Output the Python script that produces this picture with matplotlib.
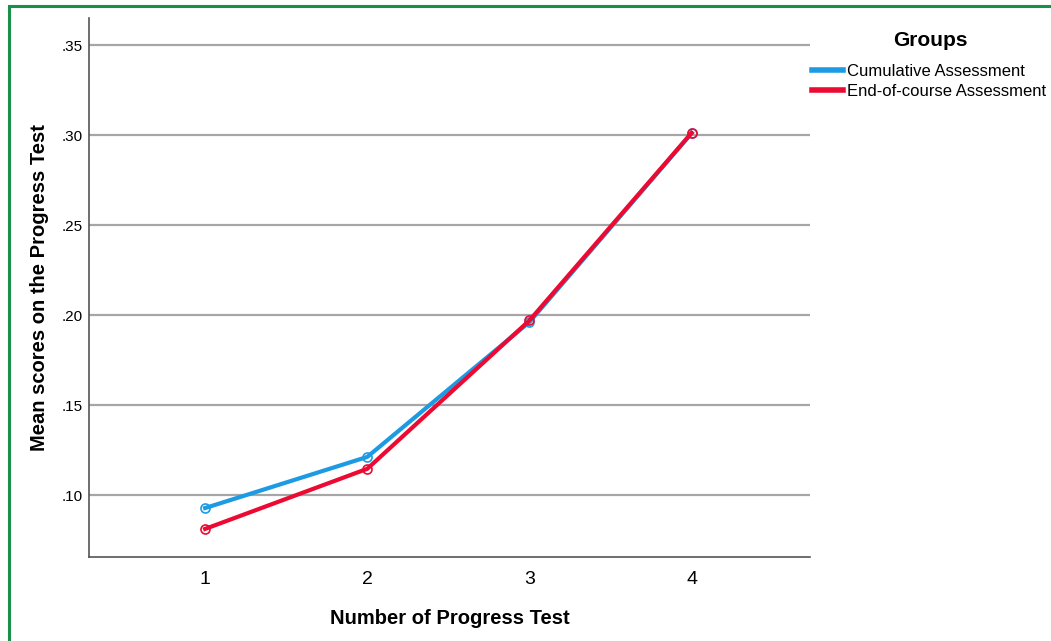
import matplotlib.pyplot as plt
from matplotlib.patches import Rectangle

tests = [1, 2, 3, 4]
cumulative = [0.0928, 0.1212, 0.1961, 0.3010]
end_of_course = [0.0812, 0.1146, 0.1970, 0.3012]
y_ticks = [0.10, 0.15, 0.20, 0.25, 0.30, 0.35]
y_tick_labels = ['.10', '.15', '.20', '.25', '.30', '.35']

plt.rcParams['font.family'] = ['Liberation Sans', 'DejaVu Sans']

fig = plt.figure(figsize=(10.51, 6.41), dpi=100)
ax = fig.add_axes([89 / 1051, 84 / 641, 721 / 1051, 539 / 641])

# green frame round the figure
fig.patches.append(Rectangle((9 / 1051, -0.05), 1.1, 1 - 6 / 641 + 0.05, transform=fig.transFigure,
                             fill=False, edgecolor='#1a8f4a', linewidth=2.2))

for yt in y_ticks:
    ax.axhline(yt, color='#a6a6a6', linewidth=1.6, zorder=1)

ax.plot(tests, cumulative, color='#1c9be3', linewidth=3, marker='o', markersize=6.5,
        markerfacecolor='none', markeredgewidth=1.2, label='Cumulative Assessment', zorder=3)
ax.plot(tests, end_of_course, color='#ec0a32', linewidth=3, marker='o', markersize=6.5,
        markerfacecolor='none', markeredgewidth=1.2, label='End-of-course Assessment', zorder=4)

ax.set_xlim(0.284, 4.73)
ax.set_ylim(0.0656, 0.365)
ax.set_xticks(tests)
ax.set_xticklabels([str(t) for t in tests], fontsize=14)
ax.set_yticks(y_ticks)
ax.set_yticklabels(y_tick_labels, fontsize=11)
ax.tick_params(axis='y', length=0, pad=4.5)
ax.tick_params(axis='x', length=0, pad=10)

for side in ['top', 'right']:
    ax.spines[side].set_visible(False)
for side in ['left', 'bottom']:
    ax.spines[side].set_color('#555555')
    ax.spines[side].set_linewidth(1.2)

ax.set_xlabel('Number of Progress Test', fontsize=14.5, fontweight='bold', labelpad=15)
ax.set_ylabel('Mean scores on the Progress Test', fontsize=14.5, fontweight='bold', labelpad=9)

fig.text(930 / 1051, 1 - 40 / 641, 'Groups', fontsize=15, fontweight='bold', ha='center', va='center')
leg = ax.legend(loc='upper left', bbox_to_anchor=(812 / 1051, 1 - 64 / 641),
                bbox_transform=fig.transFigure, frameon=False, fontsize=12,
                handlelength=1.85, handletextpad=0.25, labelspacing=0.3, borderaxespad=0,
                borderpad=0)
for line in leg.get_lines():
    line.set_marker('')
    line.set_linewidth(4)

fig.savefig('out.png', dpi=100)
